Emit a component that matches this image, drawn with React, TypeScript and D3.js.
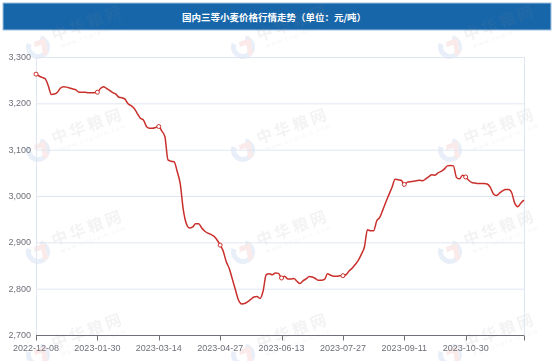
import { useRef, useEffect } from "react";
import * as d3 from "d3";

const tickLabels = [
  "2022-12-08",
  "2023-01-30",
  "2023-03-14",
  "2023-04-27",
  "2023-06-13",
  "2023-07-27",
  "2023-09-11",
  "2023-10-30",
];

const prices = [
  3263, 3259, 3256, 3253, 3238, 3219, 3220, 3224, 3233, 3236,
  3235, 3233, 3231, 3229, 3224, 3224, 3224, 3223, 3223, 3223,
  3224, 3232, 3236, 3232, 3228, 3223, 3220, 3213, 3212, 3209,
  3199, 3195, 3189, 3178, 3168, 3164, 3150, 3146, 3146, 3148,
  3150, 3140, 3128, 3078, 3075, 3074, 3053, 3026, 2970, 2940,
  2931, 2933, 2940, 2940, 2931, 2924, 2920, 2917, 2913, 2905,
  2894, 2881, 2858, 2843, 2820, 2797, 2775, 2767, 2768, 2772,
  2777, 2782, 2783, 2779, 2795, 2830, 2832, 2830, 2834, 2833,
  2823, 2827, 2821, 2821, 2822, 2816, 2811, 2817, 2821, 2826,
  2825, 2822, 2818, 2818, 2820, 2832, 2829, 2827, 2827, 2828,
  2828, 2830, 2838, 2844, 2852, 2861, 2874, 2890, 2927, 2925,
  2925, 2946, 2954, 2970, 2987, 3003, 3019, 3036, 3035, 3034,
  3025, 3030, 3031, 3032, 3033, 3034, 3033, 3037, 3042, 3046,
  3045, 3050, 3053, 3058, 3065, 3066, 3065, 3040, 3037, 3045,
  3041, 3034, 3029, 3028, 3027, 3027, 3027, 3026, 3019, 3005,
  3001, 3006, 3011, 3014, 3014, 3007, 2984, 2977, 2985, 2991,
];

const yTicks = [2700, 2800, 2900, 3000, 3100, 3200, 3300];
const labelEvery = 20;

// watermark grid (logo centre)
const markCols = [38, 243, 450];
const markRows = [47, 150, 252, 355];

const W = 554;
const H = 361;

const App = () => {
  const svgRef = useRef<SVGSVGElement | null>(null);

  useEffect(() => {
    if (!svgRef.current) return;
    const svg = d3.select(svgRef.current);
    svg.selectAll("*").remove();

    const margin = { top: 57, right: 30, bottom: 26, left: 36 };
    const innerWidth = W - margin.left - margin.right;
    const innerHeight = H - margin.top - margin.bottom;
    const font = "'Liberation Sans', Arial, sans-serif";
    const axisColor = "#6e7079";

    svg.append("rect").attr("width", W).attr("height", H).attr("fill", "#fff");

    // title bar
    svg.append("rect")
      .attr("x", 3)
      .attr("y", 3)
      .attr("width", 548)
      .attr("height", 27)
      .attr("fill", "#1766aa")
      .attr("stroke", "#9fc0e0")
      .attr("stroke-width", 1);
    svg.append("text")
      .attr("x", 274)
      .attr("y", 20.5)
      .attr("text-anchor", "middle")
      .attr("font-family", "'Noto Sans CJK SC', sans-serif")
      .attr("font-size", 9.5)
      .attr("font-weight", "bold")
      .attr("fill", "#fff")
      .text("国内三等小麦价格行情走势（单位：元/吨）");

    // watermarks
    const wm = svg.append("g").attr("opacity", 0.1);
    markRows.forEach((wy) => {
      markCols.forEach((wx) => {
        const m = wm.append("g").attr("transform", `translate(${wx},${wy}) rotate(-20)`);
        m.append("path")
          .attr("d", d3.arc()({ innerRadius: 7, outerRadius: 12, startAngle: 0.6, endAngle: 5.4 }) as string)
          .attr("fill", "#1f5fb5");
        m.append("path")
          .attr("d", "M-2,-6 L10,-6 L7,10 L2,10 L4,-1 L-3,-1 Z")
          .attr("fill", "#d62a2a");
        m.append("text")
          .attr("x", 17)
          .attr("y", 0)
          .attr("font-family", "'Noto Sans CJK SC', sans-serif")
          .attr("font-size", 16)
          .attr("font-weight", "bold")
          .attr("letter-spacing", 3)
          .attr("fill", "#888")
          .text("中华粮网");
        m.append("text")
          .attr("x", 22)
          .attr("y", 9)
          .attr("font-family", font)
          .attr("font-size", 6)
          .attr("letter-spacing", 1.5)
          .attr("fill", "#888")
          .text("www.cngrain.com");
      });
    });

    const xScale = d3
      .scaleLinear()
      .domain([0, prices.length - 1])
      .range([0, innerWidth]);

    const yScale = d3
      .scaleLinear()
      .domain([2700, 3300])
      .range([innerHeight, 0]);

    const g = svg
      .append("g")
      .attr("transform", `translate(${margin.left},${margin.top})`);

    // grid
    g.append("g")
      .selectAll("line")
      .data(yTicks.slice(1))
      .join("line")
      .attr("x1", 0)
      .attr("x2", innerWidth)
      .attr("y1", (d) => yScale(d) + 0.5)
      .attr("y2", (d) => yScale(d) + 0.5)
      .attr("stroke", "#e0e6f1");

    // side lines
    g.append("line")
      .attr("x1", 0.5).attr("x2", 0.5)
      .attr("y1", 0).attr("y2", innerHeight)
      .attr("stroke", "#e0e6f1");
    g.append("line")
      .attr("x1", innerWidth + 0.5).attr("x2", innerWidth + 0.5)
      .attr("y1", 0).attr("y2", innerHeight)
      .attr("stroke", "#e0e6f1");

    // y labels
    g.append("g")
      .selectAll("text")
      .data(yTicks)
      .join("text")
      .attr("x", -5)
      .attr("y", (d) => yScale(d) + 3)
      .attr("text-anchor", "end")
      .attr("font-family", font)
      .attr("font-size", 9)
      .attr("fill", axisColor)
      .text((d) => d3.format(",")(d));

    // x axis
    const xTickIdx = tickLabels.map((_, i) => i * labelEvery);
    const xAxis = g.append("g").attr("transform", `translate(0,${innerHeight + 0.5})`);
    xAxis.append("line")
      .attr("x1", 0).attr("x2", innerWidth)
      .attr("stroke", axisColor);
    xAxis.selectAll("line.tick")
      .data([...xTickIdx, prices.length - 1])
      .join("line")
      .attr("class", "tick")
      .attr("x1", (d) => Math.round(xScale(d)) + 0.5)
      .attr("x2", (d) => Math.round(xScale(d)) + 0.5)
      .attr("y1", 0)
      .attr("y2", 5)
      .attr("stroke", axisColor);
    xAxis.selectAll("text")
      .data(tickLabels)
      .join("text")
      .attr("x", (_, i) => xScale(i * labelEvery))
      .attr("y", 15)
      .attr("text-anchor", "middle")
      .attr("font-family", font)
      .attr("font-size", 9)
      .attr("fill", axisColor)
      .text((d) => d);

    const lineGenerator = d3
      .line<number>()
      .x((_, i) => xScale(i))
      .y((d) => yScale(d))
      .curve(d3.curveMonotoneX);

    g.append("path")
      .datum(prices)
      .attr("fill", "none")
      .attr("stroke", "#c9302c")
      .attr("stroke-width", 1.5)
      .attr("stroke-linejoin", "round")
      .attr("d", lineGenerator);

    g.append("g")
      .selectAll("circle")
      .data(xTickIdx)
      .join("circle")
      .attr("cx", (d) => xScale(d))
      .attr("cy", (d) => yScale(prices[d]))
      .attr("r", 2)
      .attr("fill", "#fff")
      .attr("stroke", "#c9302c")
      .attr("stroke-width", 1);
  }, []);

  return (
    <div style={{ position: "absolute", left: 0, top: 0 }}>
      <svg ref={svgRef} width={W} height={H} style={{ display: "block" }}></svg>
    </div>
  );
};

export default App;
